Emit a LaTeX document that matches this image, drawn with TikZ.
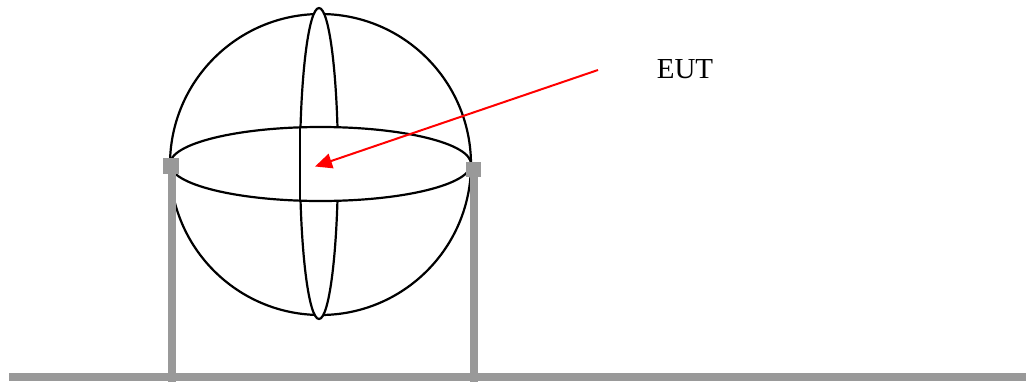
\documentclass[tikz,border=0pt]{standalone}
\usepackage{fontspec}
\setmainfont{Liberation Serif}
\usetikzlibrary{arrows.meta,shapes.geometric}
\definecolor{postgray}{HTML}{999999}
\tikzset{
    wire/.style={draw=black,line width=2.2pt,inner sep=0pt,outer sep=0pt},
    post/.style={draw=postgray,line width=8pt},
    clamp/.style={fill=postgray,inner sep=0pt,outer sep=0pt}
}
\begin{document}
\begin{tikzpicture}[x=1pt,y=-1pt]
    \useasboundingbox (0,0) rectangle (1026,383);
    \node[wire,circle,minimum size=301pt] (sphere) at (320.5,164.5) {};
    \node[wire,ellipse,fill=white,minimum width=38pt,minimum height=311pt] (meridian) at (319,163.5) {};
    \node[wire,ellipse,fill=white,minimum width=301pt,minimum height=74pt] (equator) at (320.5,164) {};
    \draw[line width=2.2pt] (meridian.west |- equator.north) -- (meridian.west |- equator.south);

    \coordinate (leftfoot) at (172,381.5);
    \coordinate (rightfoot) at (473.5,381.5);
    \coordinate (groundstart) at (9,377);
    \coordinate (groundend) at (1026,377);
    \node[clamp,minimum size=16pt] (leftclamp) at (171,166) {};
    \node[clamp,minimum size=15pt] (rightclamp) at (473,169.5) {};
    \draw[post] (leftfoot |- leftclamp.south) -- (leftfoot);
    \draw[post] (rightfoot |- rightclamp.south) -- (rightfoot);
    \draw[post] (groundstart) -- (groundend);

    \node[font=\fontsize{29pt}{29pt}\selectfont] (eut) at (685,69) {EUT};
    \coordinate (arrowstart) at (598,70);
    \coordinate (arrowend) at (315,166.5);
    \draw[red,line width=2pt,-{Triangle[length=17pt,width=15pt]}] (arrowstart) -- (arrowend);
\end{tikzpicture}
\end{document}
